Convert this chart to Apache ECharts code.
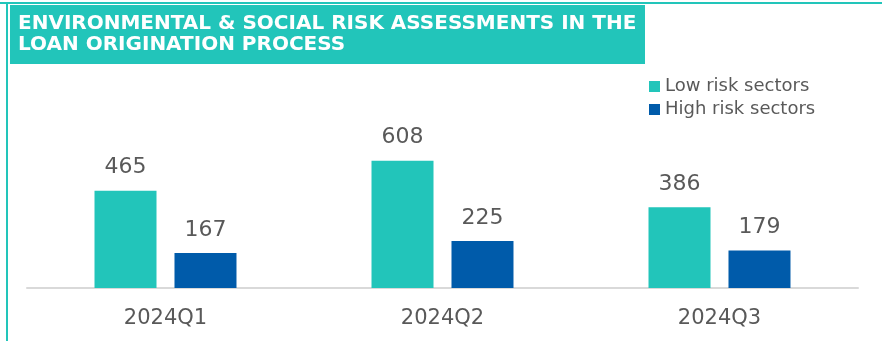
<!DOCTYPE html>
<html>
<head>
<meta charset="utf-8">
<script src="https://cdn.jsdelivr.net/npm/echarts@6/dist/echarts.min.js"></script>
<style>
  html, body { margin: 0; padding: 0; background: #fff; }
  #chart { width: 882px; height: 341px; }
</style>
</head>
<body>
<div id="chart"></div>
<script>
var quarters = ['2024Q1', '2024Q2', '2024Q3'];
var lowRisk = [465, 608, 386];
var highRisk = [167, 225, 179];
var seriesNames = ['Low risk sectors', 'High risk sectors'];
var chartTitle = 'ENVIRONMENTAL & SOCIAL RISK ASSESSMENTS IN THE\nLOAN ORIGINATION PROCESS';

var teal = '#22C5BA';
var blue = '#005BAA';
var grey = '#595959';
var font = 'DejaVu Sans';

var chart = echarts.init(document.getElementById('chart'));

// 标签样式
var valueLabel = {
    show: true,
    position: 'top',
    distance: 12,
    color: grey,
    fontFamily: font,
    fontSize: 22
};

chart.setOption({
    animation: false,
    textStyle: { fontFamily: font },
    graphic: [
        { type: 'rect', shape: { x: 0, y: 2, width: 882, height: 2 }, style: { fill: teal }, silent: true },
        { type: 'rect', shape: { x: 6, y: 4, width: 2, height: 337 }, style: { fill: teal }, silent: true },
        { type: 'rect', shape: { x: 10, y: 5, width: 635, height: 59 }, style: { fill: teal }, silent: true }
    ],
    title: {
        text: chartTitle,
        left: 13,
        top: 8,
        textStyle: {
            color: '#fff',
            fontFamily: font,
            fontWeight: 'bold',
            fontSize: 20,
            lineHeight: 21
        }
    },
    legend: {
        orient: 'vertical',
        left: 644,
        top: 72,
        itemWidth: 11,
        itemHeight: 11,
        itemGap: 4,
        icon: 'rect',
        data: seriesNames,
        textStyle: { color: grey, fontFamily: font, fontSize: 18, lineHeight: 19 }
    },
    grid: { left: 27, right: 24, top: 141.5, bottom: 53 },
    xAxis: {
        type: 'category',
        data: quarters,
        axisLine: { lineStyle: { color: '#D9D9D9', width: 2 } },
        axisTick: { show: false },
        axisLabel: { color: grey, fontFamily: font, fontSize: 21, margin: 20 }
    },
    yAxis: {
        type: 'value',
        min: 0,
        max: 700,
        show: false,
        splitLine: { show: false }
    },
    series: [
        {
            name: seriesNames[0],
            type: 'bar',
            data: lowRisk,
            barWidth: 62,
            barGap: '29%',
            itemStyle: { color: teal },
            label: valueLabel
        },
        {
            name: seriesNames[1],
            type: 'bar',
            data: highRisk,
            barWidth: 62,
            itemStyle: { color: blue },
            label: valueLabel
        }
    ]
});
</script>
</body>
</html>
